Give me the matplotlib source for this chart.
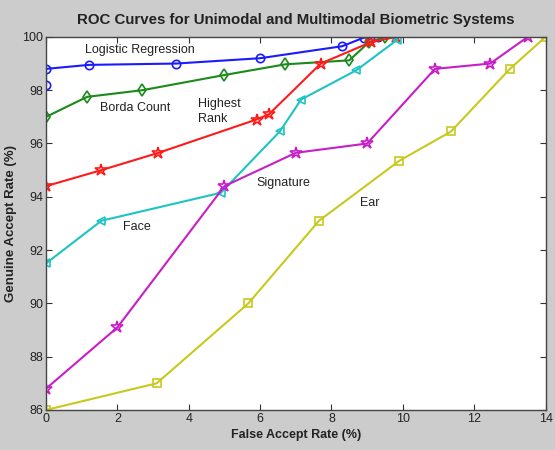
import matplotlib
matplotlib.use("Agg")
import matplotlib.pyplot as plt

# Data
lr_x = [0, 0, 1.2, 3.65, 6.0, 8.3, 8.9, 9.3]
lr_y = [98.2, 98.8, 98.95, 99.0, 99.2, 99.65, 99.97, 100.0]

bc_x = [0, 1.15, 2.7, 5.0, 6.7, 8.5, 9.05, 9.5]
bc_y = [97.0, 97.75, 98.0, 98.57, 98.97, 99.12, 99.8, 100.0]

hr_x = [0, 1.55, 3.15, 5.9, 6.25, 7.7, 9.1, 9.8]
hr_y = [94.4, 95.0, 95.65, 96.9, 97.1, 99.0, 99.8, 100.0]

face_x = [0, 1.55, 4.9, 6.55, 7.15, 8.7, 9.85]
face_y = [91.5, 93.1, 94.15, 96.45, 97.65, 98.75, 99.9]

sig_x = [0, 2.0, 5.0, 7.0, 9.0, 10.9, 12.45, 13.5]
sig_y = [86.8, 89.1, 94.4, 95.65, 96.0, 98.8, 99.0, 100.0]

ear_x = [0, 3.1, 5.67, 7.65, 9.9, 11.35, 13.0, 14.0]
ear_y = [86.0, 87.0, 90.0, 93.1, 95.35, 96.45, 98.8, 100.0]

x_ticks = [0, 2, 4, 6, 8, 10, 12, 14]
y_ticks = [86, 88, 90, 92, 94, 96, 98, 100]

title = "ROC Curves for Unimodal and Multimodal Biometric Systems"
xlabel = "False Accept Rate (%)"
ylabel = "Genuine Accept Rate (%)"

plt.rcParams['font.family'] = ['Liberation Sans', 'DejaVu Sans']

fig = plt.figure(figsize=(5.55, 4.5), dpi=100, facecolor='#cccccc')
ax = fig.add_axes([0.083, 0.089, 0.900, 0.829])
ax.set_facecolor('white')

mk = dict(markersize=6, markerfacecolor='none', linewidth=1.5, markeredgewidth=1.2)
star = dict(markersize=9, markerfacecolor='none', linewidth=1.5, markeredgewidth=1.2)
ax.plot(lr_x, lr_y, color='#1a1aff', marker='o', **mk)
ax.plot(bc_x, bc_y, color='#1a8a1a', marker='d', **mk)
ax.plot(hr_x, hr_y, color='#ff1a1a', marker='*', **star)
ax.plot(face_x, face_y, color='#1ec3c3', marker='<', **mk)
ax.plot(sig_x, sig_y, color='#c81ec8', marker='*', **star)
ax.plot(ear_x, ear_y, color='#c8c81e', marker='s', **mk)

tk = dict(fontsize=9, color='#222222')
ax.text(1.1, 99.5, "Logistic Regression", va='center', ha='left', **tk)
ax.text(1.5, 97.35, "Borda Count", va='center', ha='left', **tk)
ax.text(4.25, 97.2, "Highest\nRank", va='center', ha='left', linespacing=1.3, **tk)
ax.text(5.9, 94.5, "Signature", va='center', ha='left', **tk)
ax.text(2.15, 92.85, "Face", va='center', ha='left', **tk)
ax.text(8.8, 93.75, "Ear", va='center', ha='left', **tk)

ax.set_xlim(0, 14)
ax.set_ylim(86, 100)
ax.set_xticks(x_ticks)
ax.set_yticks(y_ticks)
ax.tick_params(direction='in', top=True, right=True, labelsize=9, length=4,
               colors='#333333', labelcolor='#222222', pad=2)
for s in ax.spines.values():
    s.set_color('#444444')
    s.set_linewidth(1.0)

ax.set_title(title, fontsize=10.8, fontweight='bold', color='#222222', pad=9)
ax.set_xlabel(xlabel, fontsize=9, fontweight='bold', color='#222222', labelpad=3)
ax.set_ylabel(ylabel, fontsize=9.5, fontweight='bold', color='#222222', labelpad=4)

fig.savefig("out.png", dpi=100, facecolor=fig.get_facecolor())
